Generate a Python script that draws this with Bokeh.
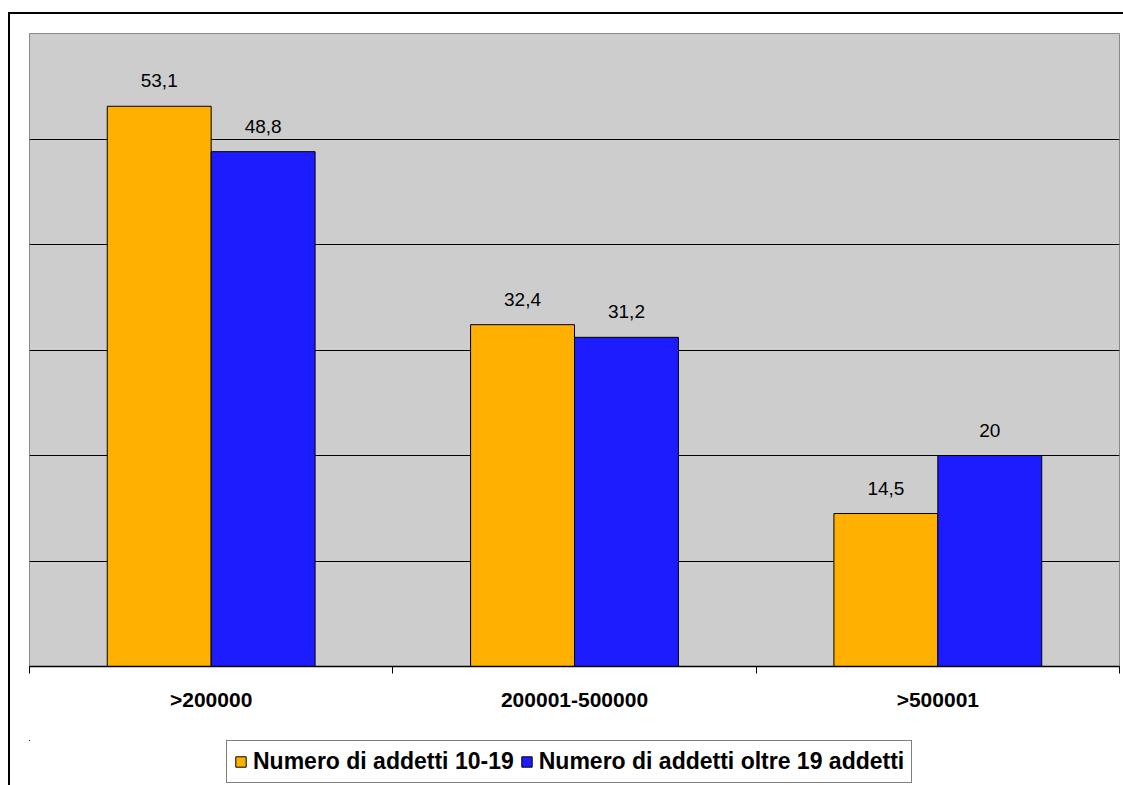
from bokeh.plotting import figure
from bokeh.models import ColumnDataSource, FixedTicker, Range1d, Legend, LegendItem
from bokeh.layouts import column
from bokeh.transform import dodge
from bokeh.core.properties import value
from bokeh.embed import file_html
from bokeh.resources import INLINE

categories = [">200000", "200001-500000", ">500001"]
series_names = ["Numero di addetti 10-19", "Numero di addetti oltre 19 addetti"]
addetti_10_19 = [53.1, 32.4, 14.5]
addetti_oltre_19 = [48.8, 31.2, 20.0]
label_10_19 = ["53,1", "32,4", "14,5"]
label_oltre_19 = ["48,8", "31,2", "20"]
y_grid_ticks = [10, 20, 30, 40, 50]

ORANGE = "#FFB000"
BLUE = "#1C1CFF"

xs = [i + 0.5 for i in range(len(categories))]
src = ColumnDataSource(dict(x=xs, a=addetti_10_19, b=addetti_oltre_19,
                            la=label_10_19, lb=label_oltre_19))

p = figure(frame_width=1090, frame_height=633, output_backend="svg", toolbar_location=None,
           x_range=Range1d(0, len(categories)), y_range=Range1d(0, 60),
           min_border_left=19, min_border_right=4, min_border_top=19, min_border_bottom=74)
p.background_fill_color = "#CDCDCD"
p.border_fill_color = "white"
p.outline_line_color = "#8A8A8A"
p.outline_line_width = 1

bw = 0.286
off = 0.143
ra = p.vbar(x=dodge("x", -off), top="a", width=bw, source=src,
            fill_color=ORANGE, line_color="black", line_width=1)
rb = p.vbar(x=dodge("x", off), top="b", width=bw, source=src,
            fill_color=BLUE, line_color="black", line_width=1)

for col, lab in (("a", "la"), ("b", "lb")):
    p.text(x=dodge("x", -off if col == "a" else off), y=col, text=lab, source=src,
           text_align="center", text_baseline="bottom", y_offset=-19,
           text_font=value("Liberation Sans"), text_font_size="19px", text_color="black")

p.yaxis.visible = False
p.ygrid.ticker = FixedTicker(ticks=y_grid_ticks)
p.ygrid.grid_line_color = "black"
p.ygrid.grid_line_width = 1
p.xgrid.visible = False

ax = p.xaxis[0]
ax.ticker = FixedTicker(ticks=xs, minor_ticks=list(range(len(categories) + 1)))
ax.major_label_overrides = {x: c for x, c in zip(xs, categories)}
ax.major_tick_out = 0
ax.major_tick_in = 0
ax.minor_tick_out = 7
ax.minor_tick_in = 0
ax.minor_tick_line_color = "black"
ax.axis_line_color = "black"
ax.axis_line_width = 1.5
ax.major_label_standoff = 14
ax.major_label_text_font = "Liberation Sans"
ax.major_label_text_font_style = "bold"
ax.major_label_text_font_size = "21px"
ax.major_label_text_color = "black"

# legend strip below the chart (same series, kept outside its visible ranges)
lg = figure(width=1113, height=48, output_backend="svg", toolbar_location=None,
            x_range=Range1d(100, 101), y_range=Range1d(-2000, -1000),
            min_border=0, min_border_left=0, min_border_right=0, min_border_top=0, min_border_bottom=0)
lg.axis.visible = False
lg.grid.visible = False
lg.outline_line_color = None
lg.background_fill_color = "white"
lg.border_fill_color = "white"
la_r = lg.vbar(x=dodge("x", -off), top="a", width=bw, source=src,
               fill_color=ORANGE, line_color="black", line_width=1)
lb_r = lg.vbar(x=dodge("x", off), top="b", width=bw, source=src,
               fill_color=BLUE, line_color="black", line_width=1)

legend = Legend(items=[LegendItem(label=series_names[0], renderers=[la_r]),
                       LegendItem(label=series_names[1], renderers=[lb_r])],
                orientation="horizontal", location=(197, 5),
                glyph_width=13, glyph_height=13, label_standoff=6, spacing=6,
                padding=7, margin=0,
                label_text_font="Liberation Sans", label_text_font_style="bold",
                label_text_font_size="23px", label_text_color="black",
                border_line_color="black", border_line_width=1.5,
                background_fill_color="white", background_fill_alpha=1)
lg.add_layout(legend, "center")

layout = column(p, lg, spacing=0)
layout.margin = (12, 0, 0, 8)
layout.styles = {"border-top": "2px solid black", "border-left": "2px solid black"}

html = file_html(layout, INLINE)
html = html.replace("</head>", "<style>html,body{margin:0;padding:0;overflow:hidden;}</style></head>", 1)
open("out.html", "w").write(html)
